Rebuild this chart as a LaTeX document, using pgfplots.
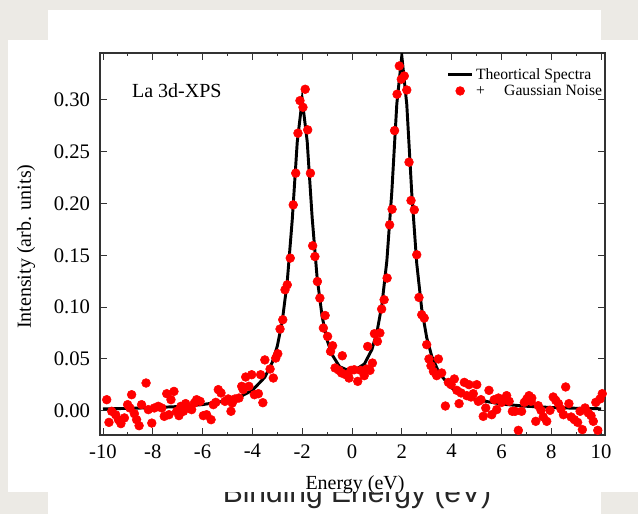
\documentclass[border=0pt]{standalone}
\usepackage{fontspec}
\setmainfont{Liberation Serif}
\setsansfont{Liberation Sans}
\usepackage{pgfplots}
\pgfplotsset{compat=1.18}
\definecolor{bggray}{RGB}{236,234,229}
\definecolor{ptred}{RGB}{255,0,0}

\pgfplotstableread{
x y
-10 0.00173
-9 0.00219
-8 0.00288
-7 0.00396
-6 0.00585
-5 0.00969
-4.5 0.01333
-4 0.01968
-3.5 0.03227
-3.2 0.04674
-3 0.06235
-2.8 0.0865
-2.6 0.1248
-2.4 0.1842
-2.2 0.2590
-2.0 0.3002
-1.8 0.2601
-1.6 0.1863
-1.4 0.1281
-1.2 0.0909
-1.0 0.06814
-0.8 0.05409
-0.5 0.0425
0 0.03724
0.5 0.04515
0.8 0.05912
1.0 0.07557
1.2 0.10197
1.4 0.14477
1.6 0.2117
1.8 0.2964
2.0 0.3425
2.2 0.2955
2.4 0.2099
2.6 0.1420
2.8 0.0981
3.0 0.07052
3.2 0.0527
3.5 0.03622
4 0.02192
4.5 0.01474
5 0.01063
6 0.00635
7 0.00426
8 0.00307
9 0.00232
10 0.00183
}\theory

\pgfplotstableread{
x y
-9.85 0.0106
-9.76 -0.0113
-9.65 -0.0006
-9.49 -0.0040
-9.38 -0.0087
-9.28 -0.0125
-9.14 -0.0070
-9.01 0.0058
-8.92 0.0026
-8.85 0.0154
-8.74 -0.0029
-8.65 -0.0087
-8.55 -0.0145
-8.45 0.0058
-8.27 0.0267
-8.18 0.0010
-8.04 -0.0120
-7.94 0.0026
-7.78 0.0042
-7.64 0.0026
-7.54 -0.0055
-7.44 0.0164
-7.35 -0.0039
-7.27 0.0106
-7.15 0.0186
-7.04 -0.0006
-6.95 -0.0048
-6.87 0.0042
-6.77 -0.0006
-6.68 0.0068
-6.57 0.0026
-6.44 0.0010
-6.33 0.0074
-6.24 0.0106
-6.10 0.0090
-5.97 -0.0048
-5.84 -0.0039
-5.66 -0.0087
-5.57 0.0058
-5.47 0.0080
-5.37 0.0203
-5.26 0.0171
-5.10 0.0090
-4.97 0.0113
-4.86 -0.0006
-4.81 0.0074
-4.70 0.0113
-4.54 0.0122
-4.43 0.0235
-4.37 0.0203
-4.27 0.0325
-4.14 0.0235
-4.03 0.0347
-3.92 0.0154
-3.76 0.0164
-3.67 0.0347
-3.58 0.0077
-3.50 0.0490
-3.29 0.0402
-3.16 0.0315
-3.06 0.0508
-2.98 0.0550
-2.89 0.0788
-2.78 0.0878
-2.69 0.1167
-2.60 0.1215
-2.48 0.1473
-2.36 0.1987
-2.26 0.2293
-2.17 0.2679
-2.09 0.2993
-1.97 0.2929
-1.88 0.3103
-1.78 0.2711
-1.67 0.2293
-1.58 0.1592
-1.49 0.1488
-1.39 0.1247
-1.29 0.1087
-1.15 0.0798
-1.08 0.0919
-0.98 0.0717
-0.86 0.0572
-0.78 0.0627
-0.68 0.0412
-0.52 0.0389
-0.42 0.0364
-0.39 0.0530
-0.25 0.0347
-0.12 0.0315
-0.04 0.0389
0.09 0.0395
0.23 0.0283
0.35 0.0389
0.49 0.0338
0.59 0.0402
0.63 0.0620
0.72 0.0389
0.82 0.0460
0.90 0.0743
1.02 0.0669
1.12 0.0750
1.19 0.0981
1.29 0.1071
1.41 0.1280
1.51 0.1794
1.61 0.1945
1.71 0.2704
1.81 0.3055
1.90 0.3328
1.98 0.3200
2.10 0.3231
2.20 0.3096
2.29 0.2399
2.37 0.2029
2.50 0.1939
2.60 0.1505
2.69 0.1093
2.80 0.0926
2.90 0.0894
3.00 0.0637
3.09 0.0499
3.17 0.0434
3.27 0.0379
3.40 0.0338
3.47 0.0499
3.60 0.0364
3.75 0.0045
3.87 0.0273
3.98 0.0251
4.11 0.0306
4.21 0.0196
4.30 0.0068
4.38 0.0171
4.51 0.0273
4.61 0.0145
4.70 0.0251
4.78 0.0132
4.87 0.0164
5.01 0.0251
5.07 0.0090
5.18 0.0106
5.27 -0.0055
5.37 0.0026
5.50 0.0196
5.61 -0.0039
5.71 0.0106
5.81 0.0010
5.88 0.0122
6.01 0.0080
6.12 0.0113
6.21 0.0145
6.31 0.0090
6.44 -0.0006
6.55 -0.0006
6.68 -0.0190
6.81 -0.0006
6.92 0.0080
7.02 0.0113
7.11 0.0145
7.19 0.0090
7.22 0.0122
7.38 -0.0103
7.48 0.0048
7.59 0.0003
7.68 -0.0061
7.82 -0.0103
7.95 0.0003
8.08 0.0132
8.18 0.0100
8.29 0.0068
8.39 0.0016
8.49 -0.0039
8.58 0.0229
8.71 0.0068
8.80 -0.0061
8.93 -0.0087
9.06 -0.0113
9.16 -0.0006
9.25 -0.0183
9.36 0.0026
9.49 -0.0022
9.60 -0.0048
9.69 -0.0103
9.79 0.0080
9.87 -0.0190
9.96 0.0113
10.05 0.0164
}\noisy

\begin{document}
\begin{tikzpicture}
\fill[bggray] (0,0) rectangle (478.5pt,-385.5pt);
\fill[white] (36pt,-7.5pt) rectangle (450.75pt,-385.5pt);
\node[anchor=base, inner sep=0pt, font=\sffamily\fontsize{22.5pt}{22.5pt}\selectfont, text=black!85] at (267.75pt,-376.5pt) {Binding Energy (eV)};
\fill[white] (6pt,-30pt) rectangle (478.5pt,-369pt);
\begin{axis}[
  at={(75pt,-326.25pt)}, anchor=south west,
  scale only axis, width=378.75pt, height=286.5pt,
  xmin=-10.12, xmax=10.16, ymin=-0.0235, ymax=0.3453,
  xtick={-10,-8,-6,-4,-2,0,2,4,6,8,10},
  minor x tick num=1,
  ytick={0,0.05,0.1,0.15,0.2,0.25,0.3},
  tick align=inside,
  major tick length=5pt, minor tick length=2.6pt,
  every tick/.style={black!80, line width=0.7pt},
  axis line style={black!80, line width=0.8pt},
  /pgf/number format/assume math mode=true,
  ticklabel style={font=\fontsize{15.5pt}{15.5pt}\selectfont},
  xticklabel style={yshift=-3.5pt},
  yticklabel style={xshift=-4pt, /pgf/number format/fixed, /pgf/number format/fixed zerofill, /pgf/number format/precision=2},
  xlabel={Energy (eV)},
  ylabel={Intensity (arb. units)},
  label style={font=\fontsize{15pt}{15pt}\selectfont},
  xlabel style={at={(axis description cs:0.505,-0.131)}, anchor=center},
  ylabel style={at={(axis description cs:-0.1465,0.493)}, anchor=center},
  legend style={at={(axis description cs:1.008,0.975)}, anchor=north east,
    draw=none, fill=none, font=\fontsize{11.75pt}{13pt}\selectfont,
    row sep=-1.2pt, cells={anchor=west}},
  legend image code/.code={\draw[#1] (0cm,0cm) -- (0.62cm,0cm);},
]
\addplot[black, line width=2.2pt] table[x=x,y=y] {\theory};
\addlegendentry{Theortical Spectra}
\addplot[only marks, mark=*, mark size=3.3pt, color=ptred, legend image code/.code={\fill[ptred] (0.31cm,0cm) circle (3.3pt);}] table[x=x,y=y] {\noisy};
\addlegendentry{+\hspace*{14.5pt}Gaussian Noise}
\node[anchor=west, inner sep=0pt, font=\fontsize{15pt}{15pt}\selectfont] at (axis cs:-8.84,0.3086) {La 3d-XPS};
\end{axis}
\end{tikzpicture}
\end{document}
